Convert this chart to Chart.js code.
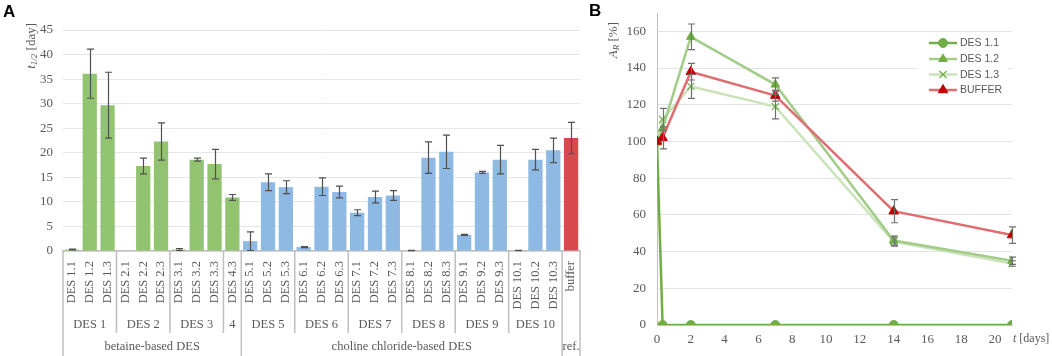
<!DOCTYPE html>
<html><head><meta charset="utf-8">
<script src="https://cdn.jsdelivr.net/npm/chart.js@4.4.1/dist/chart.umd.min.js"></script>
<style>
html,body{margin:0;padding:0;background:#fff;width:1052px;height:356px;overflow:hidden;}
#wrapA{position:absolute;left:0;top:0;width:585px;height:356px;}
#wrapB{position:absolute;left:585px;top:0;width:467px;height:356px;}
.panel{position:absolute;font:bold 17px "Liberation Sans",Arial,sans-serif;color:#000;line-height:17px;}
</style></head><body>
<div id="wrapA"><canvas id="cA" width="585" height="356"></canvas></div>
<div id="wrapB"><canvas id="cB" width="467" height="356"></canvas></div>
<div class="panel" style="left:3px;top:3px">A</div>
<div class="panel" style="left:589px;top:2px">B</div>
<script>
// ---------- Panel A data ----------
const categories = ['DES 1.1','DES 1.2','DES 1.3','DES 2.1','DES 2.2','DES 2.3','DES 3.1','DES 3.2','DES 3.3','DES 4.3',
  'DES 5.1','DES 5.2','DES 5.3','DES 6.1','DES 6.2','DES 6.3','DES 7.1','DES 7.2','DES 7.3','DES 8.1','DES 8.2','DES 8.3',
  'DES 9.1','DES 9.2','DES 9.3','DES 10.1','DES 10.2','DES 10.3','buffer'];
const halfLife = [0.3,36.1,29.7,0,17.3,22.3,0.3,18.6,17.7,10.9,2.0,14.0,13.0,0.8,13.1,12.0,7.8,11.0,11.3,0.1,19.0,20.2,3.3,16.0,18.6,0.1,18.6,20.5,23.0];
const halfLifeErr = [0.1,5.0,6.7,0,1.6,3.8,0.2,0.3,3.0,0.6,1.9,1.7,1.3,0.1,1.8,1.2,0.6,1.2,1.0,0.05,3.2,3.4,0.1,0.2,2.9,0.05,2.1,2.5,3.2];
const groupLabels = ['DES 1','DES 2','DES 3','4','DES 5','DES 6','DES 7','DES 8','DES 9','DES 10',''];
const groupSizes = [3,3,3,1,3,3,3,3,3,3,1];
const familyLabels = ['betaine-based DES','choline chloride-based DES','ref.'];
const familySizes = [10,18,1];
const familyColors = ['#92c470','#8db9e3','#d8484c'];

// ---------- Panel B data ----------
const timeDays = [0,0.33,2,7,14,21];
const seriesNames = ['DES 1.1','DES 1.2','DES 1.3','BUFFER'];
const des11 = [100,0,0,0,0,0];
const des12 = [100,107,157,131,46,35];
const des13 = [100,112,130,119,45.5,33.5];
const bufferAR = [100,102,138,125,62,49];
const des11Err = [0,0,0,0,0,0];
const des12Err = [0,0,7,3.7,2.5,2];
const des13Err = [0,6,6.5,6.7,2.5,1.5];
const bufferErr = [0,6,4.5,3,6.3,4.5];

const SERIF = '"Liberation Serif","Times New Roman",serif';
const GREY = '#595959';

const barColors = [];
familySizes.forEach((n,k)=>{for(let i=0;i<n;i++) barColors.push(familyColors[k]);});

function drawVerticalRich(ctx, cx, yTop, parts, color){
  ctx.save();
  let total=0;
  parts.forEach(p=>{ctx.font=p.font; p.w=ctx.measureText(p.text).width; total+=p.w;});
  ctx.translate(cx, yTop+total); ctx.rotate(-Math.PI/2);
  ctx.fillStyle=color; ctx.textBaseline='middle'; ctx.textAlign='left';
  let x=0;
  parts.forEach(p=>{ctx.font=p.font; ctx.fillText(p.text,x,p.dy||0); x+=p.w;});
  ctx.restore();
}
function zeroPad(s){ s.paddingTop=0; s.paddingBottom=0; s.paddingLeft=0; s.paddingRight=0; }

const errA = {
  id:'errA',
  afterDatasetsDraw(chart){
    const meta = chart.getDatasetMeta(0), y = chart.scales.y, ctx = chart.ctx;
    ctx.save(); ctx.strokeStyle='#505050'; ctx.lineWidth=1.2;
    meta.data.forEach((bar,i)=>{
      const e = halfLifeErr[i]; if(!e) return;
      const v = halfLife[i];
      const yt = y.getPixelForValue(v+e), yb = y.getPixelForValue(Math.max(0,v-e));
      const x = Math.round(bar.x)+0.5, cap=3.5;
      ctx.beginPath();
      ctx.moveTo(x,yt); ctx.lineTo(x,yb);
      ctx.moveTo(x-cap,yt); ctx.lineTo(x+cap,yt);
      ctx.moveTo(x-cap,yb); ctx.lineTo(x+cap,yb);
      ctx.stroke();
    });
    ctx.restore();
  }
};

const groupAxis = {
  id:'groupAxis',
  afterDraw(chart){
    const xs = chart.scales.x, ctx = chart.ctx;
    const edge = i => xs.getPixelForValue(i-0.5);
    const top = xs.top, midBottom = 333, bottom = chart.height;
    ctx.save();
    ctx.strokeStyle='#bfbfbf'; ctx.lineWidth=1.5;
    let idx=0;
    const famStarts = new Set(); let f=0; famStarts.add(0);
    familySizes.forEach(n=>{f+=n; famStarts.add(f);});
    const gStarts=[0]; groupSizes.forEach(n=>{idx+=n; gStarts.push(idx);});
    gStarts.forEach(s=>{
      const x = edge(s);
      ctx.beginPath(); ctx.moveTo(x,top); ctx.lineTo(x, famStarts.has(s)?bottom:midBottom); ctx.stroke();
    });
    ctx.fillStyle=GREY; ctx.textAlign='center'; ctx.textBaseline='middle';
    ctx.font='12.5px '+SERIF;
    for(let g=0; g<groupLabels.length; g++){
      const cx=(edge(gStarts[g])+edge(gStarts[g+1]))/2;
      ctx.fillText(groupLabels[g], cx, 325);
    }
    let s=0;
    familySizes.forEach((n,k)=>{
      const cx=(edge(s)+edge(s+n))/2;
      ctx.fillText(familyLabels[k], cx, 347);
      s+=n;
    });
    ctx.restore();
  }
};

const titleA = {
  id:'titleA',
  afterDraw(chart){
    drawVerticalRich(chart.ctx, 32, 23, [
      {text:'t', font:'italic 13px '+SERIF},
      {text:'1/2', font:'italic 9px '+SERIF, dy:3},
      {text:' [day]', font:'13px '+SERIF}
    ], GREY);
  }
};

new Chart(document.getElementById('cA'), {
  type:'bar',
  data:{labels:categories, datasets:[{data:halfLife, backgroundColor:barColors, barPercentage:0.8, categoryPercentage:1}]},
  options:{
    responsive:false, animation:false, devicePixelRatio:1,
    layout:{padding:{left:0,right:5,top:30,bottom:0}},
    plugins:{legend:{display:false}, tooltip:{enabled:false}},
    scales:{
      x:{grid:{display:false,drawTicks:false}, border:{display:true,color:'#bfbfbf',width:1.5},
         ticks:{autoSkip:false,minRotation:90,maxRotation:90,padding:10,color:GREY,font:{family:SERIF,size:12.5}},
         afterFit(s){s.height=105; zeroPad(s);}},
      y:{min:0,max:45,ticks:{stepSize:5,padding:10,color:GREY,font:{family:SERIF,size:13}},
         grid:{color:'#e6e6e6',drawTicks:false}, border:{display:false},
         afterFit(s){s.width=63; zeroPad(s);}}
    }
  },
  plugins:[errA, groupAxis, titleA]
});

// ---------- Panel B ----------
const seriesB = [
  {name:seriesNames[0], vals:des11, err:des11Err, line:'#70ad47', lw:2.5, ps:'circle', r:4.5, fill:'#70ad47', stroke:'#70ad47', bw:1, order:1},
  {name:seriesNames[1], vals:des12, err:des12Err, line:'#a2cc88', lw:2.5, ps:'triangle', r:5, fill:'#70ad47', stroke:'#70ad47', bw:1, order:2},
  {name:seriesNames[2], vals:des13, err:des13Err, line:'#cbe3bb', lw:2.5, ps:'crossRot', r:5, fill:'#70ad47', stroke:'#70ad47', bw:1.2, order:3},
  {name:seriesNames[3], vals:bufferAR, err:bufferErr, line:'#de6e72', lw:2.5, ps:'triangle', r:5.5, fill:'#c00000', stroke:'#c00000', bw:1, order:0}
];

const errB = {
  id:'errB',
  afterDatasetsDraw(chart){
    const xs=chart.scales.x, ys=chart.scales.y, ctx=chart.ctx;
    ctx.save(); ctx.strokeStyle='#707070'; ctx.lineWidth=1.2;
    seriesB.forEach(s=>{
      s.err.forEach((e,i)=>{
        if(!e) return;
        const x=Math.round(xs.getPixelForValue(timeDays[i]))+0.5;
        const yt=ys.getPixelForValue(s.vals[i]+e), yb=ys.getPixelForValue(s.vals[i]-e), cap=3.5;
        ctx.beginPath();
        ctx.moveTo(x,yt); ctx.lineTo(x,yb);
        ctx.moveTo(x-cap,yt); ctx.lineTo(x+cap,yt);
        ctx.moveTo(x-cap,yb); ctx.lineTo(x+cap,yb);
        ctx.stroke();
      });
    });
    ctx.restore();
  }
};

const legendB = {
  id:'legendB',
  afterDraw(chart){
    const ctx=chart.ctx, ox=585;
    ctx.save();
    ctx.fillStyle='#fff'; ctx.fillRect(917-ox,35,91,64);
    const rows=[43,59,74.5,90];
    seriesB.forEach((s,i)=>{
      const y=rows[i], x0=929-ox, x1=957-ox;
      ctx.strokeStyle=s.line; ctx.lineWidth=s.lw;
      ctx.beginPath(); ctx.moveTo(x0,y); ctx.lineTo(x1,y); ctx.stroke();
      ctx.fillStyle=s.fill; ctx.strokeStyle=s.stroke; ctx.lineWidth=s.bw;
      Chart.helpers.drawPoint(ctx,{pointStyle:s.ps,radius:s.r,rotation:0,borderWidth:s.bw},(x0+x1)/2,y);
      ctx.fillStyle=GREY; ctx.font='10.5px "Liberation Sans",Arial,sans-serif';
      ctx.textAlign='left'; ctx.textBaseline='middle';
      ctx.fillText(s.name, 960-ox, y+0.5);
    });
    ctx.restore();
  }
};

const titlesB = {
  id:'titlesB',
  afterDraw(chart){
    const ctx=chart.ctx, ca=chart.chartArea;
    drawVerticalRich(ctx, 29, 22, [
      {text:'A', font:'italic 13px '+SERIF},
      {text:'R', font:'italic 9px '+SERIF, dy:3},
      {text:' [%]', font:'13px '+SERIF}
    ], GREY);
    ctx.save();
    ctx.fillStyle=GREY; ctx.textBaseline='middle'; ctx.textAlign='left';
    const y = chart.scales.x.top + 14;
    let x = ca.right + 1;
    ctx.font='italic 12px '+SERIF; ctx.fillText('t', x, y); x += ctx.measureText('t ').width;
    ctx.font='12px '+SERIF; ctx.fillText('[days]', x, y);
    ctx.restore();
  }
};

new Chart(document.getElementById('cB'), {
  type:'scatter',
  data:{datasets: seriesB.map(s=>({
    label:s.name,
    data: timeDays.map((t,i)=>({x:t,y:s.vals[i]})),
    showLine:true, borderColor:s.line, borderWidth:s.lw, tension:0,
    pointStyle:s.ps, pointRadius:s.r, pointBackgroundColor:s.fill, pointBorderColor:s.stroke, pointBorderWidth:s.bw,
    order:s.order
  }))},
  options:{
    responsive:false, animation:false, devicePixelRatio:1,
    layout:{padding:{left:0,right:40,top:13,bottom:0}},
    plugins:{legend:{display:false}, tooltip:{enabled:false}},
    scales:{
      x:{type:'linear', min:0, max:21, grid:{display:false,drawTicks:false}, border:{display:true,color:'#bfbfbf',width:1},
         ticks:{stepSize:2, includeBounds:false, padding:7, color:GREY, font:{family:SERIF,size:13}},
         afterFit(s){s.height=31; zeroPad(s);}},
      y:{min:0, max:170, grid:{color:'#e3e3e3',drawTicks:false}, border:{display:true,color:'#bfbfbf',width:1},
         ticks:{stepSize:20, includeBounds:false, padding:11, color:GREY, font:{family:SERIF,size:13}},
         afterFit(s){s.width=72; zeroPad(s);}}
    }
  },
  plugins:[errB, legendB, titlesB]
});
</script>
</body></html>
